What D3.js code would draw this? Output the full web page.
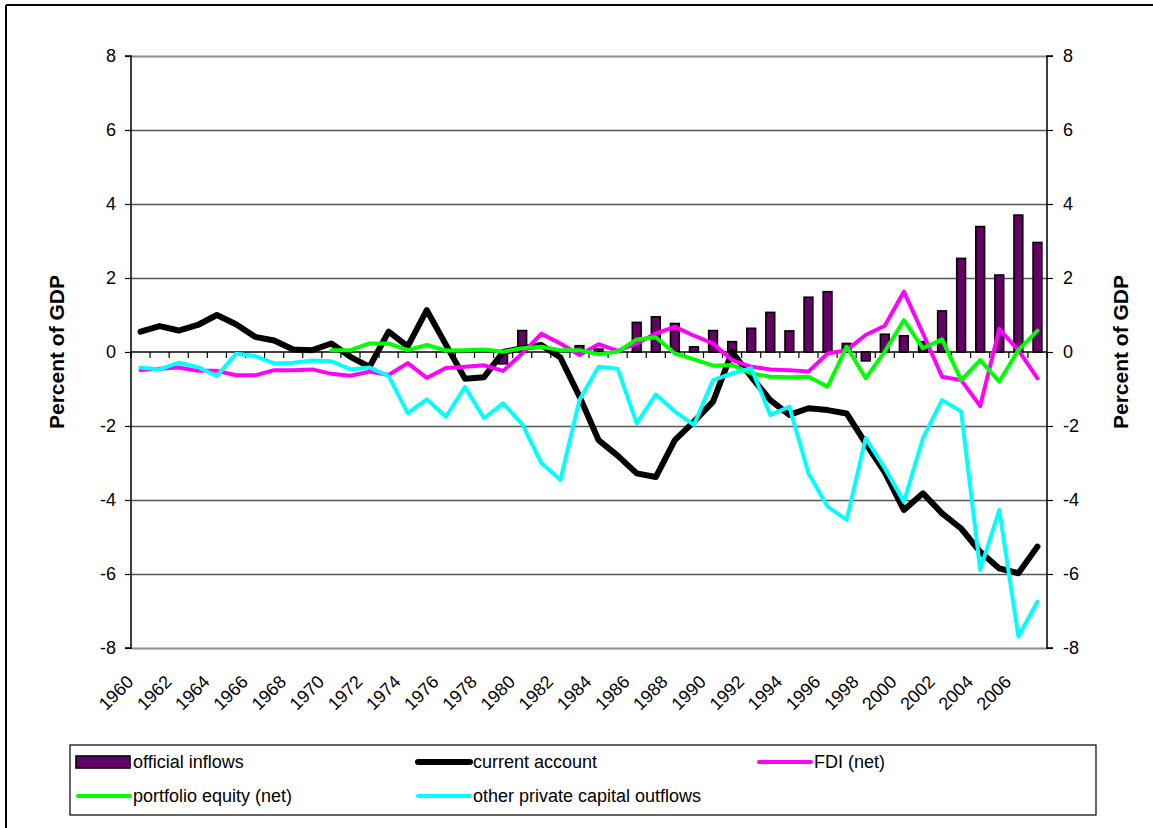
<!DOCTYPE html>
<html>
<head>
<meta charset="utf-8">
<script src="https://cdn.jsdelivr.net/npm/d3@7"></script>
<style>
  html, body { margin: 0; padding: 0; background: #fff; }
  svg { display: block; }
  text { font-family: "Liberation Sans", Arial, sans-serif; }
</style>
</head>
<body>
<svg id="chart" width="1153" height="828"></svg>
<script>
const years = [1960,1961,1962,1963,1964,1965,1966,1967,1968,1969,
  1970,1971,1972,1973,1974,1975,1976,1977,1978,1979,
  1980,1981,1982,1983,1984,1985,1986,1987,1988,1989,
  1990,1991,1992,1993,1994,1995,1996,1997,1998,1999,
  2000,2001,2002,2003,2004,2005,2006,2007];

const yearLabels = ["1960","1962","1964","1966","1968","1970","1972","1974","1976","1978",
  "1980","1982","1984","1986","1988","1990","1992","1994","1996","1998","2000","2002","2004","2006"];

const yTicks = [-8,-6,-4,-2,0,2,4,6,8];

const officialInflows = [null,null,null,null,null,null,null,null,null,null,
  null,null,null,null,null,null,null,null,null,-0.32,
  0.58,null,null,0.17,0.08,null,0.8,0.95,0.77,0.14,
  0.58,0.28,0.64,1.07,0.57,1.48,1.63,0.23,-0.24,0.48,
  0.44,0.28,1.11,2.53,3.39,2.08,3.7,2.96];

const currentAccount = [0.55,0.70,0.58,0.73,1.0,0.75,0.41,0.31,0.07,0.05,
  0.23,-0.13,-0.4,0.55,0.15,1.13,0.2,-0.72,-0.68,0.0,
  0.1,0.19,-0.15,-1.2,-2.38,-2.8,-3.28,-3.38,-2.38,-1.88,
  -1.34,0.0,-0.67,-1.3,-1.7,-1.52,-1.57,-1.66,-2.47,-3.25,
  -4.27,-3.82,-4.36,-4.77,-5.4,-5.85,-5.98,-5.26];

const fdiNet = [-0.49,-0.45,-0.42,-0.51,-0.51,-0.63,-0.63,-0.49,-0.49,-0.47,
  -0.59,-0.64,-0.53,-0.62,-0.3,-0.7,-0.43,-0.4,-0.36,-0.51,
  -0.04,0.49,0.23,-0.08,0.21,0.03,0.23,0.5,0.68,0.44,
  0.23,-0.22,-0.4,-0.47,-0.49,-0.53,-0.04,0.05,0.46,0.71,
  1.63,0.5,-0.67,-0.76,-1.46,0.62,0.05,-0.71];

const portfolioEquity = [null,null,null,null,null,null,null,null,null,null,
  0.05,0.05,0.23,0.23,0.05,0.19,0.04,0.05,0.07,0.01,
  0.1,0.14,0.05,0.05,-0.06,0.01,0.34,0.4,-0.04,-0.2,
  -0.37,-0.35,-0.58,-0.67,-0.68,-0.67,-0.94,0.14,-0.71,0.01,
  0.86,0.1,0.34,-0.76,-0.22,-0.8,0.05,0.58];

const otherPrivate = [-0.42,-0.47,-0.29,-0.41,-0.65,-0.05,-0.11,-0.31,-0.29,-0.23,
  -0.25,-0.47,-0.42,-0.65,-1.65,-1.28,-1.75,-0.95,-1.79,-1.39,
  -1.95,-3.0,-3.46,-1.3,-0.4,-0.45,-1.93,-1.15,-1.61,-1.97,
  -0.76,-0.58,-0.44,-1.7,-1.48,-3.28,-4.18,-4.54,-2.33,-3.14,
  -4.05,-2.33,-1.3,-1.61,-5.89,-4.27,-7.69,-6.75];

const seriesNames = ["official inflows","current account","FDI (net)","portfolio equity (net)","other private capital outflows"];
const yTitle = "Percent of GDP";

// ---------- layout ----------
const svg = d3.select("#chart");
const L = 131, R = 1047, T = 56, B = 648;

const x = d3.scaleBand().domain(years).range([L, R]).paddingInner(0).paddingOuter(0);
const y = d3.scaleLinear().domain([-8, 8]).range([B, T]);
const cx = d => x(d) + x.bandwidth() / 2;
const fmt = d => String(d);

// outer frame
svg.append("line").attr("x1", 6).attr("x2", 1153).attr("y1", 5).attr("y2", 5)
  .attr("stroke", "#000").attr("stroke-width", 2);
svg.append("line").attr("x1", 6).attr("x2", 6).attr("y1", 5).attr("y2", 828)
  .attr("stroke", "#000").attr("stroke-width", 2);

// gridlines
const grid = svg.append("g");
grid.selectAll("line").data(yTicks.filter(t => t !== 0)).join("line")
  .attr("x1", L).attr("x2", R)
  .attr("y1", d => Math.round(y(d)) + 0.5).attr("y2", d => Math.round(y(d)) + 0.5)
  .attr("stroke", d => (d === 8 || d === -8) ? "#8c8c8c" : "#555")
  .attr("stroke-width", d => (d === 8 || d === -8) ? 2 : 1.3);

// left axis
const yAxisL = d3.axisLeft(y).tickValues(yTicks).tickSize(6).tickPadding(9).tickFormat(fmt);
const gl = svg.append("g").attr("transform", `translate(${L},0)`).call(yAxisL);
gl.select(".domain").attr("stroke", "#000").attr("stroke-width", 1.5).attr("d", `M-6,${T}H0V${B}H-6`);
gl.selectAll(".tick line").attr("stroke", "#000").attr("stroke-width", 1.2);
gl.selectAll("text").attr("font-size", 18).attr("fill", "#000")
  .attr("font-family", "Liberation Sans, Arial, sans-serif");

// right axis
const yAxisR = d3.axisRight(y).tickValues(yTicks).tickSize(6).tickPadding(10).tickFormat(fmt);
const gr = svg.append("g").attr("transform", `translate(${R},0)`).call(yAxisR);
gr.select(".domain").attr("stroke", "#000").attr("stroke-width", 1.5).attr("d", `M6,${T}H0V${B}H6`);
gr.selectAll(".tick line").attr("stroke", "#000").attr("stroke-width", 1.2);
gr.selectAll("text").attr("font-size", 18).attr("fill", "#000")
  .attr("font-family", "Liberation Sans, Arial, sans-serif");

// axis titles
svg.append("text").attr("transform", `translate(57,${(T + B) / 2}) rotate(-90)`)
  .attr("text-anchor", "middle").attr("dy", "0.35em")
  .attr("font-size", 21).attr("font-weight", "bold").text(yTitle);
svg.append("text").attr("transform", `translate(1121,${(T + B) / 2}) rotate(-90)`)
  .attr("text-anchor", "middle").attr("dy", "0.35em")
  .attr("font-size", 21).attr("font-weight", "bold").text(yTitle);

// bars (official inflows)
const bw = x.bandwidth() * 0.46;
svg.append("g").selectAll("rect")
  .data(years.map((yr, i) => ({ yr, v: officialInflows[i] })).filter(d => d.v !== null))
  .join("rect")
  .attr("x", d => cx(d.yr) - bw / 2)
  .attr("width", bw)
  .attr("y", d => y(Math.max(0, d.v)))
  .attr("height", d => Math.abs(y(d.v) - y(0)))
  .attr("fill", "#660066").attr("stroke", "#000").attr("stroke-width", 1.6);

// x axis at zero
const xAxis = svg.append("g");
xAxis.append("line").attr("x1", L).attr("x2", R).attr("y1", y(0)).attr("y2", y(0))
  .attr("stroke", "#000").attr("stroke-width", 1.5);
xAxis.selectAll("line.tk").data(years.concat([null])).join("line").attr("class", "tk")
  .attr("x1", (d, i) => L + i * x.bandwidth()).attr("x2", (d, i) => L + i * x.bandwidth())
  .attr("y1", y(0)).attr("y2", y(0) + 6)
  .attr("stroke", "#000").attr("stroke-width", 1.2);

// x labels (every other year) below plot
svg.append("g").selectAll("text").data(yearLabels).join("text")
  .attr("transform", d => `translate(${cx(+d) - 6},683) rotate(-45)`)
  .attr("text-anchor", "end")
  .attr("font-size", 18).attr("fill", "#000").text(d => d);

// lines
const lineGen = d3.line()
  .defined(d => d.v !== null)
  .x(d => cx(d.yr)).y(d => y(d.v))
  .curve(d3.curveLinear);

const lineSeries = [
  { name: seriesNames[1], vals: currentAccount, color: "#000000", w: 6 },
  { name: seriesNames[2], vals: fdiNet, color: "#ff00ff", w: 4 },
  { name: seriesNames[3], vals: portfolioEquity, color: "#00ff00", w: 4 },
  { name: seriesNames[4], vals: otherPrivate, color: "#00ffff", w: 4 }
];
svg.append("g").selectAll("path").data(lineSeries).join("path")
  .attr("d", s => lineGen(years.map((yr, i) => ({ yr, v: s.vals[i] }))))
  .attr("fill", "none").attr("stroke", s => s.color).attr("stroke-width", s => s.w)
  .attr("stroke-linejoin", "round").attr("stroke-linecap", "round");

// legend
const lg = svg.append("g");
const LX = 70, LY = 745, LW = 1026, LH = 70;
lg.append("rect").attr("x", LX).attr("y", LY).attr("width", LW).attr("height", LH)
  .attr("fill", "#fff").attr("stroke", "#000").attr("stroke-width", 1.2);
const legendItems = [
  { name: seriesNames[0], type: "bar", color: "#660066", col: 0, row: 0 },
  { name: seriesNames[1], type: "line", color: "#000000", w: 6, col: 1, row: 0 },
  { name: seriesNames[2], type: "line", color: "#ff00ff", w: 4, col: 2, row: 0 },
  { name: seriesNames[3], type: "line", color: "#00ff00", w: 4, col: 0, row: 1 },
  { name: seriesNames[4], type: "line", color: "#00ffff", w: 4, col: 1, row: 1 }
];
const colX = [76, 416, 757];
const rowY = [762, 796];
legendItems.forEach(it => {
  const sx = colX[it.col], sy = rowY[it.row];
  if (it.type === "bar") {
    lg.append("rect").attr("x", sx).attr("y", sy - 6).attr("width", 54).attr("height", 12)
      .attr("fill", it.color).attr("stroke", "#000").attr("stroke-width", 1.6);
  } else {
    lg.append("line").attr("x1", sx + 2).attr("x2", sx + 54).attr("y1", sy).attr("y2", sy)
      .attr("stroke", it.color).attr("stroke-width", it.w).attr("stroke-linecap", "round");
  }
  lg.append("text").attr("x", sx + 57).attr("y", sy).attr("dy", "0.35em")
    .attr("font-size", 18).attr("fill", "#000").text(it.name);
});
</script>
</body>
</html>
